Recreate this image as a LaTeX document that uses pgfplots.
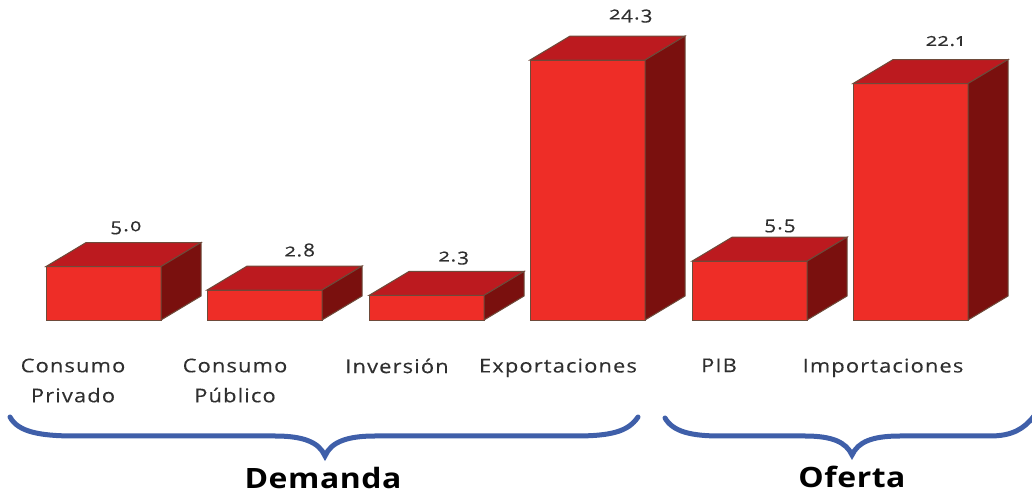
\documentclass[border=0pt]{standalone}
\usepackage{fontspec}
\setmainfont[Numbers=OldStyle,LetterSpace=6,FakeStretch=1.15,FakeBold=0.25]{Open Sans}
\newfontfamily\boldf[LetterSpace=2,FakeStretch=1.14]{Open Sans Bold}
\usepackage{pgfplots}
\pgfplotsset{compat=1.18}
\definecolor{frontc}{HTML}{EE2D27}
\definecolor{topc}{HTML}{BC1A1F}
\definecolor{sidec}{HTML}{7A100E}
\definecolor{edgec}{HTML}{6E4A3A}
\definecolor{bracec}{HTML}{3F5FA9}
\definecolor{txt}{HTML}{2F2F2F}
\pgfplotsset{
  topf/.style={fill=topc,draw=edgec,line width=1pt},
  sidef/.style={fill=sidec,draw=edgec,line width=1pt},
}
\begin{document}
\begin{tikzpicture}[x=1pt,y=1pt]
\path[use as bounding box,clip] (0,0) rectangle (1032,494);
\begin{axis}[
  at={(0,0)},anchor=south west,
  scale only axis,width=1032pt,height=494pt,
  xmin=0,xmax=1032,ymin=-16.26,ymax=29.91,
  axis line style={draw=none},
  tick style={draw=none},
  ytick=\empty,
  xtick={73,235,397,558,719,883},
  xticklabels={Consumo\\Privado,Consumo\\Público,Inversión,Exportaciones,PIB,Importaciones},
  x tick label style={align=center,anchor=north,yshift=139pt,font=\fontsize{19}{30}\selectfont,text=txt},
  clip=false,
]
% front faces
\addplot[ybar,bar width=115pt,bar shift=0pt,fill=frontc,draw=edgec,line width=1pt] coordinates {
  (103.5,5.0) (264.5,2.8) (426.5,2.3) (587.5,24.3) (749.5,5.5) (910.5,22.1)};
% top faces
\addplot[topf] coordinates {(46,5.0) (161,5.0) (201,7.24) (86,7.24)} --cycle;
\addplot[topf] coordinates {(207,2.8) (322,2.8) (362,5.04) (247,5.04)} --cycle;
\addplot[topf] coordinates {(369,2.3) (484,2.3) (524,4.54) (409,4.54)} --cycle;
\addplot[topf] coordinates {(530,24.3) (645,24.3) (685,26.54) (570,26.54)} --cycle;
\addplot[topf] coordinates {(692,5.5) (807,5.5) (847,7.74) (732,7.74)} --cycle;
\addplot[topf] coordinates {(853,22.1) (968,22.1) (1008,24.34) (893,24.34)} --cycle;
% side faces
\addplot[sidef] coordinates {(161,0) (201,2.24) (201,7.24) (161,5.0)} --cycle;
\addplot[sidef] coordinates {(322,0) (362,2.24) (362,5.04) (322,2.8)} --cycle;
\addplot[sidef] coordinates {(484,0) (524,2.24) (524,4.54) (484,2.3)} --cycle;
\addplot[sidef] coordinates {(645,0) (685,2.24) (685,26.54) (645,24.3)} --cycle;
\addplot[sidef] coordinates {(807,0) (847,2.24) (847,7.74) (807,5.5)} --cycle;
\addplot[sidef] coordinates {(968,0) (1008,2.24) (1008,24.34) (968,22.1)} --cycle;
% value labels
\node[text=txt,font=\fontsize{18}{20}\selectfont] at (axis cs:126,8.62) {5.0};
\node[text=txt,font=\fontsize{18}{20}\selectfont] at (axis cs:300,6.54) {2.8};
\node[text=txt,font=\fontsize{18}{20}\selectfont] at (axis cs:454,5.79) {2.3};
\node[text=txt,font=\fontsize{18}{20}\selectfont] at (axis cs:631,28.41) {24.3};
\node[text=txt,font=\fontsize{18}{20}\selectfont] at (axis cs:780,8.79) {5.5};
\node[text=txt,font=\fontsize{18}{20}\selectfont] at (axis cs:945,26.07) {22.1};
\end{axis}
% braces (pixel positions measured from top: y = 494 - p)
\begin{scope}[line width=5pt,draw=bracec,line cap=round]
\draw (10,77) .. controls (18,62) and (40,58) .. (75,58) -- (275,58)
  .. controls (303,58) and (319,52) .. (325,38)
  .. controls (331,52) and (347,58) .. (375,58) -- (575,58)
  .. controls (610,58) and (628,62) .. (638,77);
\draw (665,76) .. controls (673,62) and (692,58) .. (720,58) -- (805,58)
  .. controls (832,58) and (846,52) .. (852,39)
  .. controls (858,52) and (872,58) .. (900,58) -- (990,58)
  .. controls (1012,58) and (1024,65) .. (1034,78);
\end{scope}
\node[text=black,inner sep=0pt,anchor=base,font=\boldf\fontsize{28}{30}\selectfont] at (323,5) {Demanda};
\node[text=black,inner sep=0pt,anchor=base,font=\boldf\fontsize{28}{30}\selectfont] at (852,6) {Oferta};
\end{tikzpicture}
\end{document}
